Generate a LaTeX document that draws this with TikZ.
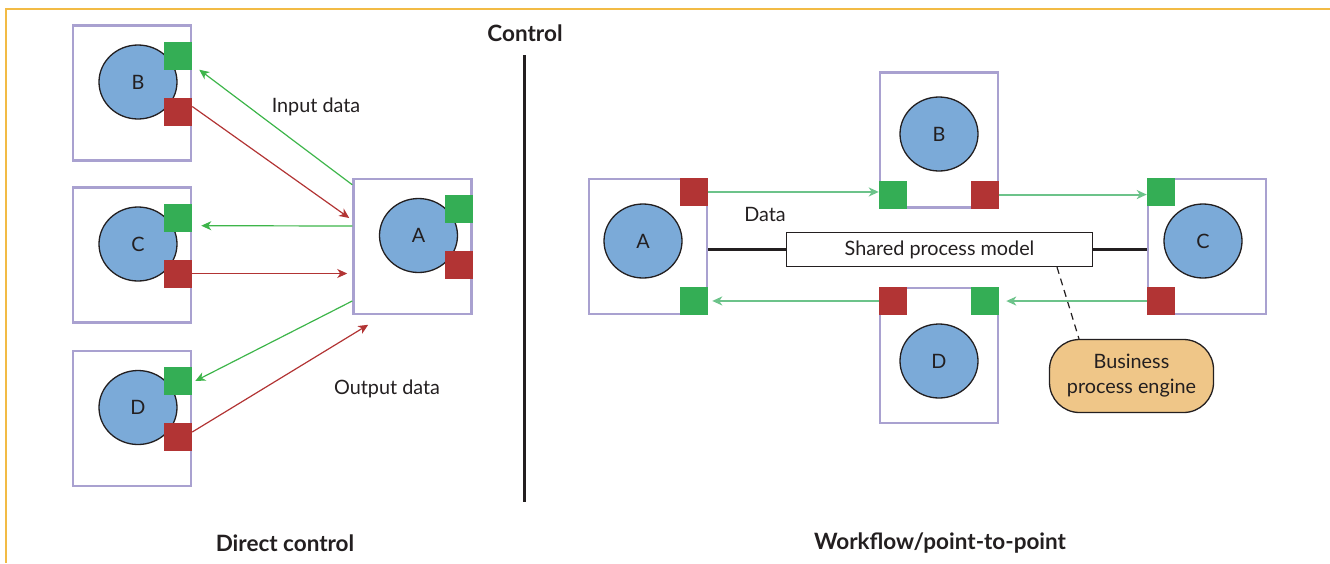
\documentclass[tikz,border=0pt]{standalone}
\usepackage{fontspec}
\setmainfont{Lato}
\usetikzlibrary{arrows.meta,shapes.geometric}
\definecolor{Amber}{HTML}{F2BB45}
\definecolor{Frame}{HTML}{A9A1D0}
\definecolor{Ball}{HTML}{7BAAD8}
\definecolor{Ink}{HTML}{231F20}
\definecolor{Leaf}{HTML}{34AE55}
\definecolor{Brick}{HTML}{B23434}
\definecolor{Sprout}{HTML}{3DB54A}
\definecolor{Mint}{HTML}{6CC38A}
\definecolor{Sand}{HTML}{EFC688}

\begin{document}
\begin{tikzpicture}[x=1pt,y=-1pt,>={Stealth[length=10pt,width=9pt,inset=3pt]},
  every node/.style={font=\fontsize{19.8}{25}\selectfont,text=Ink},
  unit/.style={draw=Frame,line width=2.5pt,fill=white,minimum width=118pt,minimum height=135pt,inner sep=0pt},
  ball/.style={ellipse,draw=Ink,line width=1.3pt,fill=Ball,minimum width=78pt,minimum height=74pt,inner sep=0pt},
  port/.style={fill=#1,minimum size=28pt,inner sep=0pt},
  link/.style={line width=1.2pt,->},
  flow/.style={Mint,line width=2pt,->},
  title/.style={font=\fontsize{22.5}{26}\selectfont\bfseries}]
\useasboundingbox (0,0) rectangle (1330,563);
\draw[Amber,line width=1.5pt] (6,563)--(6,9)--(1330,9);

% direct control
\foreach \n/\x/\y in {B/132/93,C/132/255,D/132/418.5,A/412.5/246.5}{
  \node[unit] (l\n) at (\x,\y) {};
  \node[ball] (l\n-ball) at ([xshift=6pt,yshift=11pt]l\n.center) {\n};
  \node[port=Leaf,anchor=east] (l\n-in) at ([yshift=37.5pt]l\n.east) {};
  \node[port=Brick,anchor=east] (l\n-out) at ([yshift=-18.5pt]l\n.east) {};
}
\draw[link,Sprout] ([yshift=-7pt]lA.north west) -- ([xshift=7pt]lB-in.south east);
\draw[link,Brick] ([yshift=5pt]lB-out.east) -- ([xshift=-3pt,yshift=28.5pt]lA.west);
\draw[link,Sprout] ([yshift=20.5pt]lA.west) -- ([xshift=9pt,yshift=6pt]lC-in.south east);
\draw[link,Brick,shorten >=5pt] (lC-out.east) -- (lC-out.east -| lA.west);
\draw[link,Sprout] ([yshift=-54.5pt]lA.west) -- ([xshift=3pt]lD-in.east);
\draw[link,Brick] ([yshift=5pt]lD-out.east) -- ([xshift=16pt,yshift=-9.5pt]lA.south west);
\node (inlbl) at (316,107) {Input data};
\node (outlbl) at (387,389) {Output data};

\node[title] (ctrl) at (525,33) {Control};
\draw[Ink,line width=3pt] (524,55) -- (524,502);

% workflow
\node[unit] (rA) at (648,246.5) {};
\node[ball] (rA-ball) at ([xshift=-5pt,yshift=5.5pt]rA.center) {A};
\node[port=Brick,anchor=north east] (rA-out) at (rA.north east) {};
\node[port=Leaf,anchor=south east] (rA-in) at (rA.south east) {};
\node[unit] (rB) at (939,140) {};
\node[ball] (rB-ball) at ([yshift=6pt]rB.center) {B};
\node[port=Leaf,anchor=south west] (rB-in) at (rB.south west) {};
\node[port=Brick,anchor=south east] (rB-out) at (rB.south east) {};
\node[unit] (rD) at (939,355.5) {};
\node[ball] (rD-ball) at ([yshift=-5.5pt]rD.center) {D};
\node[port=Brick,anchor=north west] (rD-out) at (rD.north west) {};
\node[port=Leaf,anchor=north east] (rD-in) at (rD.north east) {};
\node[unit] (rC) at (1207,246.5) {};
\node[ball] (rC-ball) at ([xshift=-4pt,yshift=5.5pt]rC.center) {C};
\node[port=Leaf,anchor=north west] (rC-in) at (rC.north west) {};
\node[port=Brick,anchor=south west] (rC-out) at (rC.south west) {};

\node[draw=Ink,line width=1.2pt,fill=white,minimum width=306pt,minimum height=34pt] (model) at (939.5,249.5) {Shared process model};
\draw[Ink,line width=2.5pt] (rA.east |- model.west) -- (model.west);
\draw[Ink,line width=2.5pt] (model.east) -- (rC.west |- model.east);
\node[draw=Ink,line width=1.3pt,fill=Sand,rounded corners=30pt,minimum width=164pt,minimum height=73pt,align=center] (engine) at (1131.5,376) {Business\\process engine};
\draw[Ink,line width=1.2pt,dash pattern=on 7pt off 5pt] ([xshift=117.5pt]model.south) -- ([xshift=-52.5pt]engine.north);

\draw[flow] (rA-out.east) -- (rA-out.east -| rB-in.west);
\draw[flow] (rB-out.east) -- (rB-out.east -| rC-in.west);
\draw[flow,shorten >=7pt] (rC-out.west) -- (rC-out.west -| rD-in.east);
\draw[flow,shorten >=4pt] (rD-out.west) -- (rD-out.west -| rA-in.east);
\node (datalbl) at (765,214) {Data};

\node[title] (dctl) at (285,543) {Direct control};
\node[title] (wflbl) at (940,543) {Workflow/point-to-point};
\end{tikzpicture}
\end{document}
